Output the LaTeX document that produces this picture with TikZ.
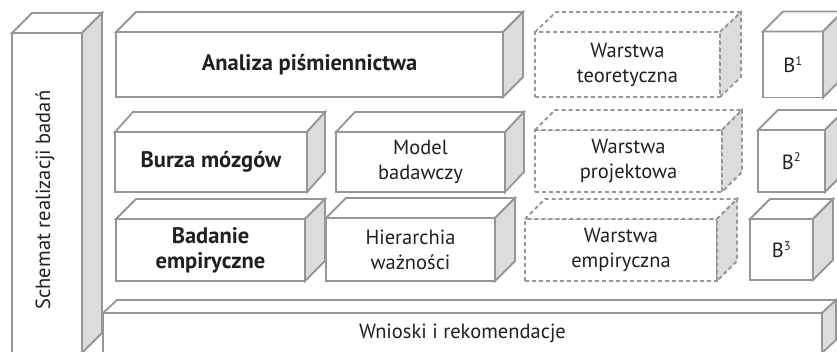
\documentclass[tikz,border=0pt]{standalone}
\usepackage{fontspec}
\setmainfont{PT Sans}
\usetikzlibrary{calc}
\definecolor{edgegray}{RGB}{150,150,150}
\definecolor{sidegray}{RGB}{220,220,222}
\definecolor{textdark}{RGB}{35,31,32}
\newcommand\supnum[1]{\textsuperscript{\fontsize{12.5}{12.5}\selectfont #1}}
\tikzset{
  frontbox/.style={draw=edgegray,fill=white,line width=1.8pt,inner sep=0pt,outer sep=0pt,
    align=center,text=textdark,font=\fontsize{20.5}{25}\selectfont},
  facestyle/.style={draw=edgegray,fill=white,line width=1.8pt},
  sidestyle/.style={draw=edgegray,fill=sidegray,line width=1.8pt},
  dashedbox/.style={dash pattern=on 4pt off 3pt},
  boldtext/.style={font=\fontsize{22.5}{25}\selectfont\bfseries}
}
% name, cx, cy, w, h, dx, dy, style, text
\newcommand\cuboidbox[9]{%
  \node[frontbox,#8,minimum width=#4pt,minimum height=#5pt] (#1) at (#2,#3) {#9};
  \filldraw[facestyle,#8] (#1.north west) -- ++(#6,-#7) -- ($(#1.north east)+(#6,-#7)$) -- (#1.north east) -- cycle;
  \filldraw[sidestyle,#8] (#1.north east) -- ++(#6,-#7) -- ($(#1.south east)+(#6,-#7)$) -- (#1.south east) -- cycle;
}
\begin{document}
\begin{tikzpicture}[x=1pt,y=-1pt]
\useasboundingbox (0,0) rectangle (837,351);
% left column
\cuboidbox{schemat}{47}{193}{70}{320}{20}{20}{}{}
\node[rotate=90,text=textdark,font=\fontsize{20.5}{25}\selectfont] (schematlabel) at (45,200) {Schemat realizacji badań};
% row 1
\cuboidbox{analiza}{309.5}{64.5}{387}{65}{20}{20}{boldtext}{Analiza piśmiennictwa}
\cuboidbox{teor}{627.5}{64.5}{185}{65}{21}{20}{dashedbox}{Warstwa\\teoretyczna}
\cuboidbox{b1}{793}{64.5}{60}{66}{20}{20}{}{B\supnum{1}}
% row 2
\cuboidbox{burza}{211}{162}{192}{60}{18}{20}{boldtext}{Burza mózgów}
\cuboidbox{model}{420.5}{162}{169}{60}{19}{20}{}{Model\\badawczy}
\cuboidbox{proj}{628.5}{161}{187}{62}{20}{20}{dashedbox}{Warstwa\\projektowa}
\cuboidbox{b2}{791.5}{161}{67}{62}{20}{20}{}{B\supnum{2}}
% row 3
\cuboidbox{badanie}{210.5}{250}{189}{62}{20}{20}{boldtext}{Badanie\\empiryczne}
\cuboidbox{hier}{410.5}{249.5}{169}{63}{20}{20}{}{Hierarchia\\ważności}
\cuboidbox{emp}{621}{250}{192}{62}{20}{20}{dashedbox}{Warstwa\\empiryczna}
\cuboidbox{b3}{781.5}{249.5}{63}{61}{20}{20}{}{B\supnum{3}}
% bottom
\cuboidbox{wnioski}{462.5}{333}{719}{40}{14}{13}{}{Wnioski i rekomendacje}
\end{tikzpicture}
\end{document}
